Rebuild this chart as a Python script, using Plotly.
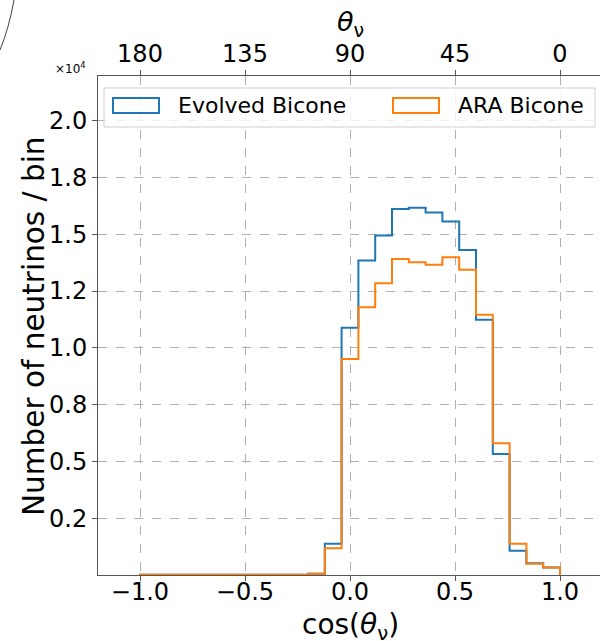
import plotly.graph_objects as go

# ---- data ----
bin_edges = [round(-1 + 0.08 * i, 2) for i in range(26)]
evolved_counts = [10, 10, 10, 10, 10, 10, 10, 10, 10, 10, 50, 1370, 10880, 13840, 14940,
                  16110, 16160, 15950, 15560, 14310, 11230, 5330, 1070, 520, 330]
ara_counts = [10, 10, 10, 10, 10, 10, 10, 10, 10, 10, 50, 1180, 9510, 11790, 12840,
              13910, 13770, 13650, 13990, 13430, 11460, 5800, 1370, 490, 330]
x_tick_vals = [-1.0, -0.5, 0.0, 0.5, 1.0]
x_tick_text = ["\u22121.0", "\u22120.5", "0.0", "0.5", "1.0"]
top_tick_text = ["180", "135", "90", "45", "0"]
y_tick_vals = [2500, 5000, 7500, 10000, 12500, 15000, 17500, 20000]
y_tick_text = ["0.2", "0.5", "0.8", "1.0", "1.2", "1.5", "1.8", "2.0"]
series_names = ["Evolved Bicone", "ARA Bicone"]
colors = ["#1f77b4", "#ff7f0e"]

W, H = 600, 641
L, R, T, B = 98, 600, 76, 575  # plot area in pixels


def step_xy(edges, counts):
    xs = [edges[0]] + list(edges)
    ys = [0] + list(counts) + [0]
    return xs, ys


fig = go.Figure()
for counts, name, col in zip([evolved_counts, ara_counts], series_names, colors):
    xs, ys = step_xy(bin_edges, counts)
    fig.add_trace(go.Scatter(x=xs, y=ys, mode="lines", line=dict(color=col, width=2, shape="hv"),
                             name=name, showlegend=False, hoverinfo="skip"))
# invisible trace for top axis
fig.add_trace(go.Scatter(x=[0], y=[0], xaxis="x2", mode="markers", marker=dict(opacity=0),
                         showlegend=False, hoverinfo="skip"))

xr = [(L - 350) / 210.0, (R - 350) / 210.0]
yr = [0, (B - T) / 0.02272]
font = "DejaVu Sans"
grid = dict(showgrid=True, gridcolor="#b0b0b0", griddash="dash", gridwidth=1)
common = dict(ticks="outside", ticklen=5, tickcolor="#555", showline=True, linecolor="#555",
              linewidth=1, zeroline=False, tickfont=dict(size=24), automargin=False)

fig.update_layout(
    width=W, height=H,
    margin=dict(l=L, r=W - R, t=T, b=H - B, autoexpand=False),
    paper_bgcolor="white", plot_bgcolor="white",
    font=dict(family=font, color="black", size=22),
    xaxis=dict(range=xr, tickvals=x_tick_vals, ticktext=x_tick_text, ticklabelstandoff=-10,
               **common, **grid),
    xaxis2=dict(range=xr, overlaying="x", side="top", tickvals=x_tick_vals, ticktext=top_tick_text,
                ticklabelstandoff=-2, **common, **grid),
    yaxis=dict(range=yr, tickvals=y_tick_vals, ticktext=y_tick_text, **common, **grid),
    showlegend=False,
)


def px(p):
    return (p - L) / (R - L)


def py(p):
    return (B - p) / (B - T)


shapes = []
# legend box
shapes.append(dict(type="rect", xref="paper", yref="paper", x0=px(104), x1=px(595), y0=py(127), y1=py(88),
                   fillcolor="rgba(255,255,255,0.8)", line=dict(color="#d0d0d0", width=1), layer="above"))
icon_x = [(113, 159), (393, 439)]
text_x = [176, 456]
for (a, b), col, tx, name in zip(icon_x, colors, text_x, series_names):
    shapes.append(dict(type="rect", xref="paper", yref="paper", x0=px(a), x1=px(b), y0=py(113), y1=py(98),
                       fillcolor="rgba(0,0,0,0)", line=dict(color=col, width=2), layer="above"))
    fig.add_annotation(x=px(tx), y=py(106), xref="paper", yref="paper", text=name, showarrow=False,
                       xanchor="left", yanchor="middle", font=dict(size=22, family=font))
# stray arc at top-left
shapes.append(dict(type="path", xref="paper", yref="paper",
                   path=f"M {px(0)} {py(50)} Q {px(9)} {py(28)} {px(14)} {py(0)}",
                   line=dict(color="#444", width=1)))
fig.update_layout(shapes=shapes)

# axis titles
fig.add_annotation(x=px(350), y=py(626), xref="paper", yref="paper",
                   text="cos(<i>\u03b8</i><sub>\u03bd</sub>)", showarrow=False,
                   xanchor="center", yanchor="middle", font=dict(size=28, family=font))
fig.add_annotation(x=px(350), y=py(24), xref="paper", yref="paper",
                   text="<i>\u03b8</i><sub>\u03bd</sub>", showarrow=False,
                   xanchor="center", yanchor="middle", font=dict(size=27, family=font))
fig.add_annotation(x=px(34), y=py(326), xref="paper", yref="paper",
                   text="Number of neutrinos / bin", showarrow=False, textangle=-90,
                   xanchor="center", yanchor="middle", font=dict(size=29.5, family=font))
fig.add_annotation(x=px(70), y=py(68), xref="paper", yref="paper", text="\u00d710<sup>4</sup>",
                   showarrow=False, xanchor="center", yanchor="middle", font=dict(size=12, family=font))

fig.write_html("out.html", config={"displayModeBar": False},
               post_script="document.body.style.margin='0px';")
